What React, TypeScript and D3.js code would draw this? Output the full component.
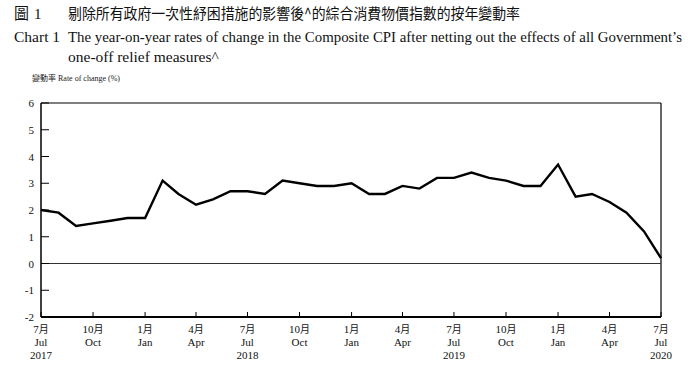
import React from "react";
import * as d3 from "d3";

const months: string[] = [
  "2017-07","2017-08","2017-09","2017-10","2017-11","2017-12",
  "2018-01","2018-02","2018-03","2018-04","2018-05","2018-06",
  "2018-07","2018-08","2018-09","2018-10","2018-11","2018-12",
  "2019-01","2019-02","2019-03","2019-04","2019-05","2019-06",
  "2019-07","2019-08","2019-09","2019-10","2019-11","2019-12",
  "2020-01","2020-02","2020-03","2020-04","2020-05","2020-06","2020-07",
];
const rates: number[] = [
  2.0, 1.9, 1.4, 1.5, 1.6, 1.7,
  1.7, 3.1, 2.6, 2.2, 2.4, 2.7,
  2.7, 2.6, 3.1, 3.0, 2.9, 2.9,
  3.0, 2.6, 2.6, 2.9, 2.8, 3.2,
  3.2, 3.4, 3.2, 3.1, 2.9, 2.9,
  3.7, 2.5, 2.6, 2.3, 1.9, 1.2, 0.2,
];
const yTicks: number[] = [-2, -1, 0, 1, 2, 3, 4, 5, 6];
const xTickMonths: string[] = [
  "2017-07","2017-10","2018-01","2018-04","2018-07","2018-10",
  "2019-01","2019-04","2019-07","2019-10","2020-01","2020-04","2020-07",
];
const xTickCn: string[] = ["7月","10月","1月","4月","7月","10月","1月","4月","7月","10月","1月","4月","7月"];
const xTickEn: string[] = ["Jul","Oct","Jan","Apr","Jul","Oct","Jan","Apr","Jul","Oct","Jan","Apr","Jul"];
const xTickYear: string[] = ["2017","","","","2018","","","","2019","","","","2020"];

const titleCn = "剔除所有政府一次性紓困措施的影響後^的綜合消費物價指數的按年變動率";
const titleEn1 = "The year-on-year rates of change in the Composite CPI after netting out the effects of all Government’s";
const titleEn2 = "one-off relief measures^";
const yAxisTitleCn = "變動率";
const yAxisTitleEn = "Rate of change (%)";

const serif = "'Liberation Serif', 'DejaVu Serif', serif";
const cjk = "'Noto Sans CJK TC', 'Noto Sans CJK SC', sans-serif";

export default function App() {
  const W = 690, H = 366;
  const left = 41, right = 661, top = 103, bottom = 317;
  const parse = d3.timeParse("%Y-%m");
  const dates = months.map((m) => parse(m) as Date);
  const x = d3.scaleTime().domain([dates[0], dates[dates.length - 1]]).range([left, right]);
  const y = d3.scaleLinear().domain([-2, 6]).range([bottom, top]);
  const line = d3.line<number>()
    .x((_, i) => x(dates[i]))
    .y((d) => y(d));
  const tickDates = xTickMonths.map((m) => parse(m) as Date);

  return (
    <svg width={W} height={H} style={{ position: "absolute", left: 0, top: 0, background: "#fff" }}>
      <rect x={0} y={0} width={W} height={H} fill="#fff" />
      <text x={14} y={19} fontFamily={cjk} fontSize={15} fill="#111">圖</text>
      <text x={34} y={19} fontFamily={serif} fontSize={15} fill="#111">1</text>
      <text x={68} y={19} fontFamily={cjk} fontSize={15} fill="#111" textLength={452} lengthAdjust="spacingAndGlyphs">{titleCn}</text>
      <text x={14} y={42} fontFamily={serif} fontSize={15.5} fill="#111">Chart 1</text>
      <text x={68} y={42} fontFamily={serif} fontSize={15} fill="#111" textLength={614} lengthAdjust="spacingAndGlyphs">{titleEn1}</text>
      <text x={68} y={62} fontFamily={serif} fontSize={15.5} fill="#111">{titleEn2}</text>
      <text x={32} y={81} fontSize={8} fill="#222">
        <tspan fontFamily={cjk}>{yAxisTitleCn}</tspan>
        <tspan fontFamily={serif} dx={2}>{yAxisTitleEn}</tspan>
      </text>

      {/* frame */}
      <line x1={left} x2={right} y1={top} y2={top} stroke="#000" strokeWidth={1.2} />
      <line x1={right} x2={right} y1={top} y2={bottom} stroke="#000" strokeWidth={1.2} />
      <line x1={left} x2={left} y1={top} y2={bottom} stroke="#000" strokeWidth={1.5} />
      <line x1={left} x2={right} y1={y(0)} y2={y(0)} stroke="#333" strokeWidth={1} />
      <line x1={left} x2={right} y1={bottom} y2={bottom} stroke="#000" strokeWidth={1.8} />

      {yTicks.map((t) => (
        <g key={t}>
          <line x1={left} x2={left + 8} y1={y(t)} y2={y(t)} stroke="#000" strokeWidth={1} />
          <text x={34} y={y(t) + 4} textAnchor="end" fontFamily={serif} fontSize={11} fill="#111">{t}</text>
        </g>
      ))}

      {tickDates.map((d, i) => (
        <g key={i}>
          <line x1={x(d)} x2={x(d)} y1={bottom} y2={bottom - 5} stroke="#000" strokeWidth={1} />
          <text x={x(d)} y={333} textAnchor="middle" fontSize={11} fill="#111">
            <tspan fontFamily={serif}>{xTickCn[i].replace("月", "")}</tspan>
            <tspan fontFamily={cjk} fontSize={10}>月</tspan>
          </text>
          <text x={x(d)} y={346} textAnchor="middle" fontFamily={serif} fontSize={11} fill="#111">{xTickEn[i]}</text>
          {xTickYear[i] && (
            <text x={x(d)} y={359} textAnchor="middle" fontFamily={serif} fontSize={11} fill="#111">{xTickYear[i]}</text>
          )}
        </g>
      ))}

      <path d={line(rates) || ""} fill="none" stroke="#000" strokeWidth={2.4} strokeLinejoin="miter" />
    </svg>
  );
}
